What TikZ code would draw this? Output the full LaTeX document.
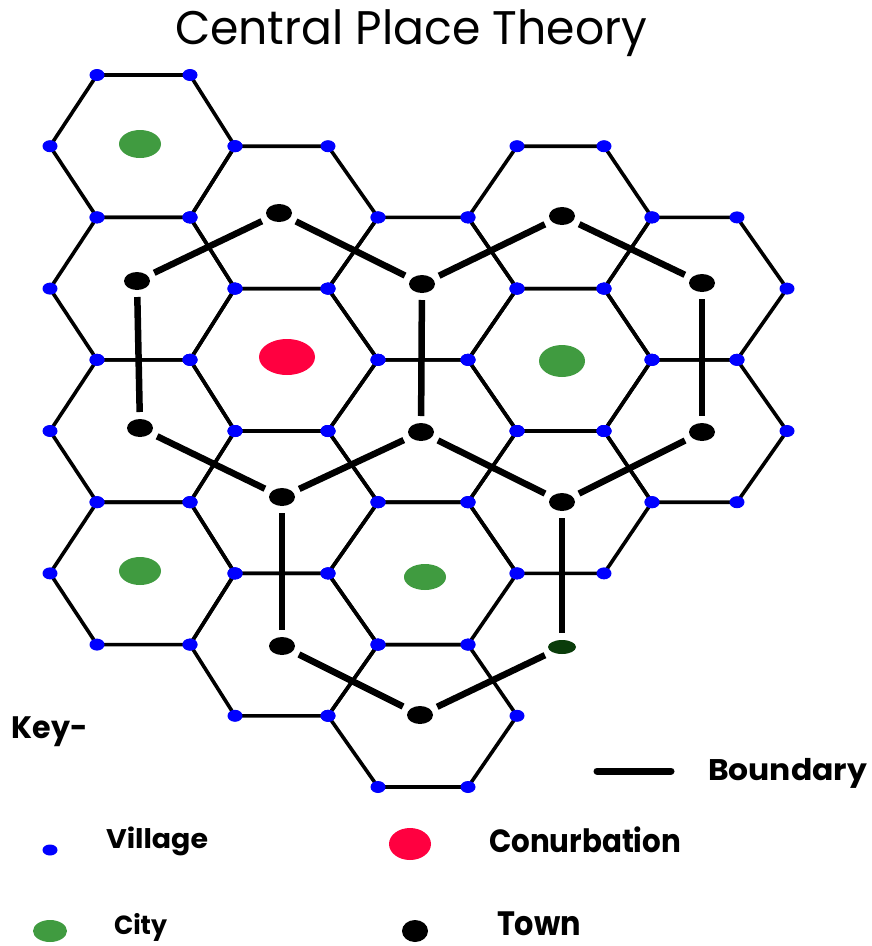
\documentclass[tikz,border=0pt]{standalone}
\usepackage{fontspec}
\usepackage{graphicx}
\setmainfont{Poppins}
\usetikzlibrary{shapes.geometric}
\definecolor{vblue}{RGB}{0,0,255}
\definecolor{cgreen}{RGB}{64,155,64}
\definecolor{cred}{RGB}{255,0,64}
\definecolor{dgreen}{RGB}{10,60,10}
\begin{document}
\begin{tikzpicture}[x=1pt,y=-1pt,
  hexedge/.style={line width=3.6pt, line join=round},
  bnd/.style={line width=6.5pt},
  village/.style={fill=vblue},
  settle/.style={ellipse, draw=none, inner sep=0pt},
  town/.style={settle, fill=black, minimum width=26pt, minimum height=18pt, outer sep=7pt},
  city/.style={settle, fill=cgreen, minimum width=42pt, minimum height=28pt},
  conurb/.style={settle, fill=cred, minimum width=56pt, minimum height=36pt},
  txt/.style={anchor=north west, inner sep=0pt, outer sep=0pt}
]
\useasboundingbox[fill=white] (0,0) rectangle (872,946);

% vertex lattice
\foreach \i/\x in {0/50,1/97,2/190,3/235,4/328,5/378,6/468,7/517,8/604,9/652,10/737,11/787}{
  \foreach \j in {0,...,10}{
    \coordinate (v-\i-\j) at (\x,{75+71.2*\j});
  }
}

% hexagons
\foreach \c/\r in {0/1,0/3,0/5,0/7,1/2,1/4,1/6,1/8,2/3,2/5,2/7,2/9,3/2,3/4,3/6,4/3,4/5}{
  \pgfmathtruncatemacro\xa{2*\c}
  \pgfmathtruncatemacro\xb{2*\c+1}
  \pgfmathtruncatemacro\xc{2*\c+2}
  \pgfmathtruncatemacro\xd{2*\c+3}
  \pgfmathtruncatemacro\ru{\r-1}
  \pgfmathtruncatemacro\rd{\r+1}
  \draw[hexedge] (v-\xa-\r) -- (v-\xb-\ru) -- (v-\xc-\ru) -- (v-\xd-\r) -- (v-\xc-\rd) -- (v-\xb-\rd) -- cycle;
}

% settlements
\node[city] (A1) at (140,144) {};
\node[town] (A2) at (137,281) {};
\node[town] (A3) at (140,428) {};
\node[city] (A4) at (140,571) {};
\node[town] (B1) at (279,213) {};
\node[conurb] (B2) at (287,357) {};
\node[town] (B3) at (282,497) {};
\node[town] (B4) at (282,646) {};
\node[town] (C1) at (422,284) {};
\node[town] (C2) at (421,432) {};
\node[city, minimum height=26pt] (C3) at (425,577) {};
\node[town] (C4) at (420,715) {};
\node[town] (D1) at (562,216) {};
\node[city, minimum width=46pt, minimum height=32pt] (D2) at (562,361) {};
\node[town] (D3) at (562,502) {};
\node[town, fill=dgreen, minimum width=28pt, minimum height=14pt] (D4) at (562,647) {};
\node[town] (E1) at (702,283) {};
\node[town] (E2) at (702,432) {};

% boundaries
\draw[bnd] (A2) -- (B1);
\draw[bnd] (B1) -- (C1);
\draw[bnd] (C1) -- (D1);
\draw[bnd] (D1) -- (E1);
\draw[bnd] (E1) -- (E2);
\draw[bnd] (E2) -- (D3);
\draw[bnd] (D3) -- (D4);
\draw[bnd] (D4) -- (C4);
\draw[bnd] (C4) -- (B4);
\draw[bnd] (B4) -- (B3);
\draw[bnd] (B3) -- (A3);
\draw[bnd] (A3) -- (A2);
\draw[bnd] (C1) -- (C2);
\draw[bnd] (C2) -- (B3);
\draw[bnd] (C2) -- (D3);

% villages
\foreach \c/\r in {0/1,0/3,0/5,0/7,1/2,1/4,1/6,1/8,2/3,2/5,2/7,2/9,3/2,3/4,3/6,4/3,4/5}{
  \pgfmathtruncatemacro\xa{2*\c}
  \pgfmathtruncatemacro\xb{2*\c+1}
  \pgfmathtruncatemacro\xc{2*\c+2}
  \pgfmathtruncatemacro\xd{2*\c+3}
  \pgfmathtruncatemacro\ru{\r-1}
  \pgfmathtruncatemacro\rd{\r+1}
  \fill[village] (v-\xa-\r) ellipse [x radius=7.5pt, y radius=6pt];
  \fill[village] (v-\xb-\ru) ellipse [x radius=7.5pt, y radius=6pt];
  \fill[village] (v-\xc-\ru) ellipse [x radius=7.5pt, y radius=6pt];
  \fill[village] (v-\xd-\r) ellipse [x radius=7.5pt, y radius=6pt];
  \fill[village] (v-\xc-\rd) ellipse [x radius=7.5pt, y radius=6pt];
  \fill[village] (v-\xb-\rd) ellipse [x radius=7.5pt, y radius=6pt];
}

% title
\node[txt] (title) at (175,10) {\resizebox*{472pt}{47pt}{Central Place Theory}};

% key
\node[txt] (keyt) at (12,717) {\resizebox*{76pt}{30pt}{\bfseries Key-}};
\coordinate (bk1) at (597,771);
\coordinate (bk2) at (671,771);
\draw[line width=7pt, line cap=round] (bk1) -- (bk2);
\node[txt] (kbnd) at (708,758) {\resizebox*{159pt}{30pt}{\bfseries Boundary}};
\node[settle, fill=vblue, minimum width=15pt, minimum height=11pt] (kvil) at (50,850) {};
\node[txt] (kvilt) at (106,827) {\resizebox*{102pt}{29pt}{\bfseries Village}};
\node[settle, fill=cred, minimum width=42pt, minimum height=32pt] (kcon) at (410,844) {};
\node[txt] (kcont) at (489,827) {\resizebox*{192pt}{26pt}{\bfseries Conurbation}};
\node[settle, fill=cgreen, minimum width=34pt, minimum height=22pt] (kcity) at (50,931) {};
\node[txt] (kcityt) at (114,913) {\resizebox*{53pt}{28pt}{\bfseries City}};
\node[settle, fill=black, minimum width=26pt, minimum height=22pt] (ktown) at (415,931) {};
\node[txt] (ktownt) at (497,912) {\resizebox*{84pt}{24pt}{\bfseries Town}};
\end{tikzpicture}
\end{document}
